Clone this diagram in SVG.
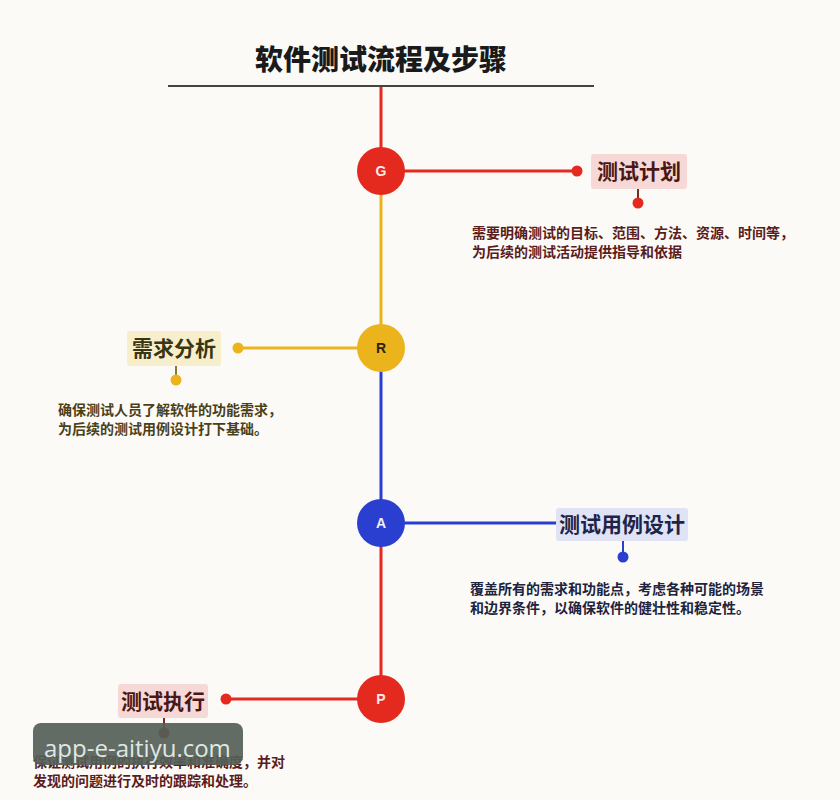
<svg xmlns="http://www.w3.org/2000/svg" width="840" height="800" viewBox="0 0 840 800">
<style>
  .cjk { font-family: "Noto Sans CJK SC", "Liberation Sans", sans-serif; font-weight: 700; }
  .title { font-size: 28px; fill: #1a1a1a; font-weight: 900; }
  .lbl { font-size: 21px; }
  .desc { font-size: 14px; }
  .letter { font-family: "Liberation Sans", "DejaVu Sans", sans-serif; font-weight: 700; font-size: 14px; text-anchor: middle; }
  .red { fill: #e4291f; }
  .yel { fill: #ebb41c; }
  .blu { fill: #2a3ecf; }
  .sred { stroke: #e4291f; stroke-width: 3; fill: none; }
  .syel { stroke: #ebb41c; stroke-width: 3; fill: none; }
  .sblu { stroke: #2a3ecf; stroke-width: 3; fill: none; }
</style>
<rect width="840" height="800" fill="#fbfaf7"/>
<g id="title">
  <text class="cjk title" x="381" y="70" text-anchor="middle">软件测试流程及步骤</text>
  <line x1="168" y1="86" x2="594" y2="86" stroke="#444" stroke-width="2"/>
</g>
<g id="connectors">
  <line class="sred" x1="381" y1="87" x2="381" y2="171"/>
  <line class="syel" x1="381" y1="171" x2="381" y2="348"/>
  <line class="sblu" x1="381" y1="348" x2="381" y2="523"/>
  <line class="sred" x1="381" y1="523" x2="381" y2="699"/>
  <line class="sred" x1="381" y1="171" x2="577" y2="171"/>
  <line class="syel" x1="381" y1="348" x2="238" y2="348"/>
  <line class="sblu" x1="381" y1="523" x2="600" y2="523"/>
  <line class="sred" x1="381" y1="699" x2="226" y2="699"/>
  <line stroke="#7a2a2a" stroke-width="2" x1="638" y1="189" x2="638" y2="203"/>
  <line stroke="#8a7a3a" stroke-width="2" x1="176" y1="366" x2="176" y2="380"/>
  <line stroke="#2a3ecf" stroke-width="2" x1="623" y1="541" x2="623" y2="557"/>
  <line stroke="#7a2a2a" stroke-width="2" x1="164" y1="718" x2="164" y2="733"/>
  <circle class="red" cx="577" cy="171" r="5.5"/>
  <circle class="red" cx="638" cy="203" r="5.5"/>
  <circle class="yel" cx="238" cy="348" r="5.5"/>
  <circle class="yel" cx="176" cy="380" r="5.5"/>
  <circle class="blu" cx="600" cy="523" r="5.5"/>
  <circle class="blu" cx="623" cy="557" r="5.5"/>
  <circle class="red" cx="226" cy="699" r="5.5"/>
  <circle fill="#8a2a22" cx="164" cy="733" r="5.5"/>
</g>
<g id="node-G">
  <circle class="red" cx="381" cy="171" r="24"/>
  <text class="letter" x="381" y="176" fill="#fbe9e6">G</text>
  <rect x="591" y="154" width="96" height="35" rx="3" fill="#f6d9d6"/>
  <text class="cjk lbl" x="639" y="179" text-anchor="middle" fill="#4a1616">测试计划</text>
  <text class="cjk desc" x="472" y="238" fill="#5a1c1c">需要明确测试的目标、范围、方法、资源、时间等，</text>
  <text class="cjk desc" x="472" y="257" fill="#5a1c1c">为后续的测试活动提供指导和依据</text>
</g>
<g id="node-R">
  <circle class="yel" cx="381" cy="348" r="24"/>
  <text class="letter" x="381" y="353" fill="#2a2410">R</text>
  <rect x="127" y="331" width="94" height="35" rx="3" fill="#f7efcc"/>
  <text class="cjk lbl" x="174" y="356" text-anchor="middle" fill="#3a3512">需求分析</text>
  <text class="cjk desc" x="58" y="415" fill="#4a4018">确保测试人员了解软件的功能需求，</text>
  <text class="cjk desc" x="58" y="434" fill="#4a4018">为后续的测试用例设计打下基础。</text>
</g>
<g id="node-A">
  <circle class="blu" cx="381" cy="523" r="24"/>
  <text class="letter" x="381" y="528" fill="#eef0fb">A</text>
  <rect x="556" y="508" width="132" height="33" rx="3" fill="#dfe3f5"/>
  <text class="cjk lbl" x="622" y="532" text-anchor="middle" fill="#1f2347">测试用例设计</text>
  <text class="cjk desc" x="470" y="594" fill="#20233d">覆盖所有的需求和功能点，考虑各种可能的场景</text>
  <text class="cjk desc" x="470" y="613" fill="#20233d">和边界条件，以确保软件的健壮性和稳定性。</text>
</g>
<g id="node-P">
  <circle class="red" cx="381" cy="699" r="24"/>
  <text class="letter" x="381" y="704" fill="#fbe9e6">P</text>
  <rect x="118" y="684" width="90" height="34" rx="3" fill="#f6d9d6"/>
  <text class="cjk lbl" x="163" y="709" text-anchor="middle" fill="#4a1616">测试执行</text>
  <text class="cjk desc" x="33" y="767" fill="#5a1c1c">保证测试用例的执行效率和准确度，并对</text>
  <text class="cjk desc" x="33" y="786" fill="#5a1c1c">发现的问题进行及时的跟踪和处理。</text>
</g>
<g id="watermark">
  <rect x="33" y="723" width="210" height="42" rx="8" fill="#555e57" fill-opacity="0.92"/>
  <text x="44" y="757" font-family="'Open Sans', 'DejaVu Sans', sans-serif" font-size="24" fill="#dfe8e2">app-e-aitiyu.com</text>
</g>
</svg>
